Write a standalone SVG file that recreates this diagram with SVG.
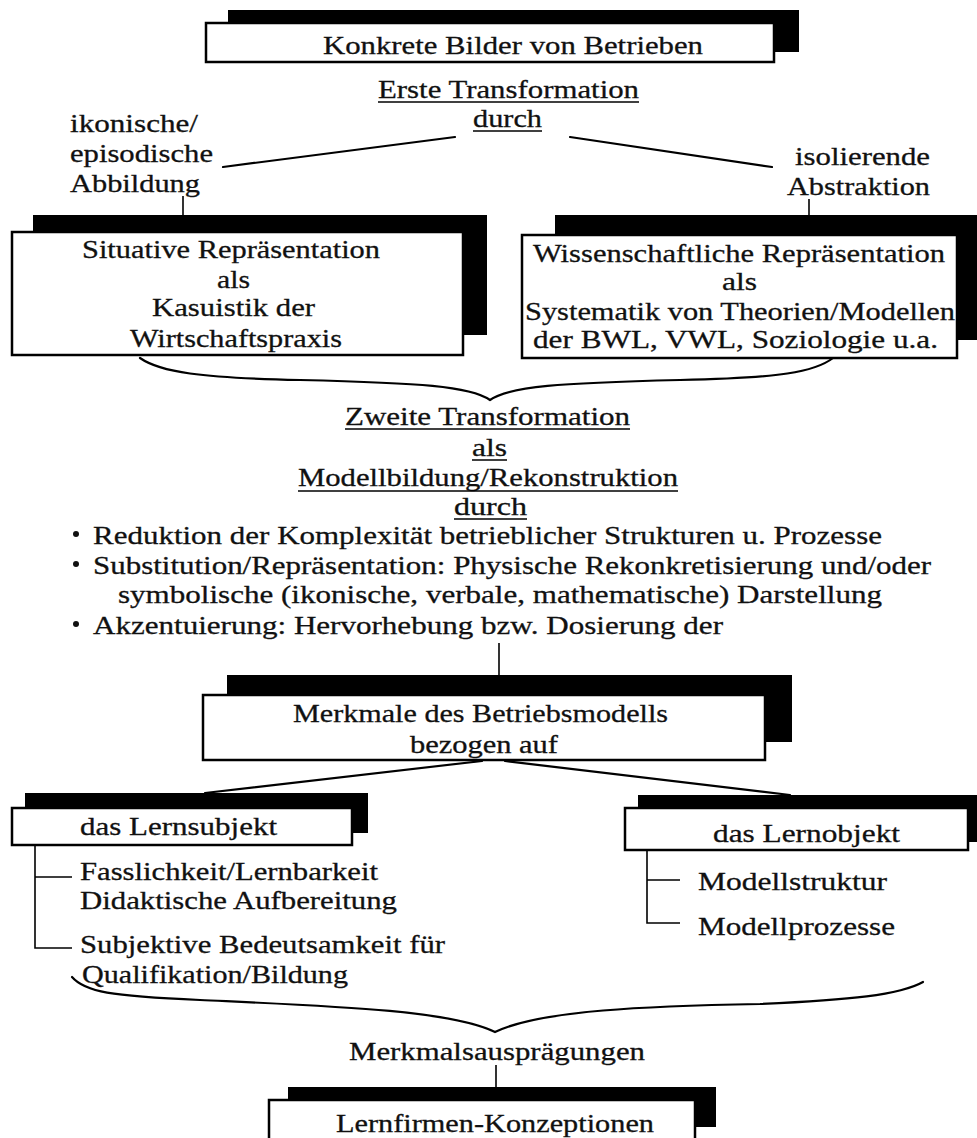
<svg xmlns="http://www.w3.org/2000/svg" width="977" height="1138" viewBox="0 0 977 1138">
  <style>
    text { font-family: "Liberation Serif", "Times New Roman", serif; font-size: 26px; fill: #111; stroke: #111; stroke-width: 0.3; }
    .shadow { fill: #000; }
    .box { fill: #fff; stroke: #000; stroke-width: 2.5; }
    .conn { fill: none; stroke: #000; stroke-width: 2.2; stroke-linecap: round; }
    .thin { fill: none; stroke: #000; stroke-width: 1.6; }
    .ul { stroke: #000; stroke-width: 1.6; }
  </style>
  <rect width="977" height="1138" fill="#fff"/>

  <!-- connectors -->
  <g id="connectors">
    <path class="conn" d="M223,167 L455,137"/>
    <path class="conn" d="M570,137 L772,167"/>
    <path class="thin" d="M183,196 L183,216"/>
    <path class="thin" d="M809,199 L809,216"/>
    <!-- brace joining the two representations -->
    <path class="conn" d="M140,358 C160,372 200,378 300,380 C420,383 470,386 490,400 C510,386 560,383 680,380 C780,378 815,372 833,358"/>
    <path class="thin" d="M499,643 L499,676"/>
    <path class="conn" d="M482,761 L205,793"/>
    <path class="conn" d="M505,761 L790,795"/>
    <!-- tree under the learning subject -->
    <path class="thin" d="M35,846 L35,948 L72,948 M35,877 L72,877"/>
    <!-- tree under the learning object -->
    <path class="thin" d="M647,851 L647,923 L680,923 M647,880 L680,880"/>
    <!-- lower brace -->
    <path class="conn" d="M72,977 C85,992 110,996 200,1000 C330,1006 450,1010 495,1032 C540,1010 650,1006 760,1004 C850,1000 900,995 923,982"/>
    <path class="thin" d="M496,1065 L496,1088"/>
  </g>

  <g id="node-konkrete">
    <rect class="shadow" x="228" y="10" width="571" height="42"/>
    <rect class="box" x="206" y="23" width="568" height="39"/>
    <text x="323" y="54" textLength="380" lengthAdjust="spacingAndGlyphs">Konkrete Bilder von Betrieben</text>
  </g>

  <g id="label-erste">
    <text x="378" y="98" textLength="261" lengthAdjust="spacingAndGlyphs">Erste Transformation</text>
    <line class="ul" x1="378" y1="102" x2="639" y2="102"/>
    <text x="473" y="127" textLength="69" lengthAdjust="spacingAndGlyphs">durch</text>
    <line class="ul" x1="473" y1="131" x2="542" y2="131"/>
  </g>

  <g id="label-ikonisch">
    <text x="70" y="132" textLength="128" lengthAdjust="spacingAndGlyphs">ikonische/</text>
    <text x="70" y="162" textLength="143" lengthAdjust="spacingAndGlyphs">episodische</text>
    <text x="70" y="192" textLength="130" lengthAdjust="spacingAndGlyphs">Abbildung</text>
  </g>

  <g id="label-isolierend">
    <text x="795" y="165" textLength="135" lengthAdjust="spacingAndGlyphs">isolierende</text>
    <text x="787" y="195" textLength="143" lengthAdjust="spacingAndGlyphs">Abstraktion</text>
  </g>

  <g id="node-situativ">
    <rect class="shadow" x="33" y="215" width="454" height="120"/>
    <rect class="box" x="12" y="232" width="451" height="123"/>
    <text x="82" y="258" textLength="298" lengthAdjust="spacingAndGlyphs">Situative Repräsentation</text>
    <text x="217" y="288" textLength="33" lengthAdjust="spacingAndGlyphs">als</text>
    <text x="152" y="316" textLength="163" lengthAdjust="spacingAndGlyphs">Kasuistik der</text>
    <text x="130" y="347" textLength="212" lengthAdjust="spacingAndGlyphs">Wirtschaftspraxis</text>
  </g>

  <g id="node-wissenschaftlich">
    <rect class="shadow" x="555" y="215" width="425" height="125"/>
    <rect class="box" x="522" y="235" width="435" height="123"/>
    <text x="533" y="262" textLength="412" lengthAdjust="spacingAndGlyphs">Wissenschaftliche Repräsentation</text>
    <text x="722" y="290" textLength="35" lengthAdjust="spacingAndGlyphs">als</text>
    <text x="525" y="320" textLength="430" lengthAdjust="spacingAndGlyphs">Systematik von Theorien/Modellen</text>
    <text x="533" y="348" textLength="405" lengthAdjust="spacingAndGlyphs">der BWL, VWL, Soziologie u.a.</text>
  </g>

  <g id="label-zweite">
    <text x="345" y="425" textLength="285" lengthAdjust="spacingAndGlyphs">Zweite Transformation</text>
    <line class="ul" x1="345" y1="429" x2="630" y2="429"/>
    <text x="472" y="456" textLength="35" lengthAdjust="spacingAndGlyphs">als</text>
    <line class="ul" x1="472" y1="460" x2="507" y2="460"/>
    <text x="298" y="486" textLength="380" lengthAdjust="spacingAndGlyphs">Modellbildung/Rekonstruktion</text>
    <line class="ul" x1="298" y1="491" x2="678" y2="491"/>
    <text x="454" y="515" textLength="73" lengthAdjust="spacingAndGlyphs">durch</text>
    <line class="ul" x1="454" y1="519" x2="527" y2="519"/>
  </g>

  <g id="list-verfahren">
    <circle cx="76" cy="534" r="3" fill="#111"/>
    <text x="93" y="544" textLength="789" lengthAdjust="spacingAndGlyphs">Reduktion der Komplexität betrieblicher Strukturen u. Prozesse</text>
    <circle cx="76" cy="564" r="3" fill="#111"/>
    <text x="93" y="574" textLength="838" lengthAdjust="spacingAndGlyphs">Substitution/Repräsentation: Physische Rekonkretisierung und/oder</text>
    <text x="118" y="603" textLength="764" lengthAdjust="spacingAndGlyphs">symbolische (ikonische, verbale, mathematische) Darstellung</text>
    <circle cx="76" cy="624" r="3" fill="#111"/>
    <text x="93" y="634" textLength="630" lengthAdjust="spacingAndGlyphs">Akzentuierung: Hervorhebung bzw. Dosierung der</text>
  </g>

  <g id="node-merkmale">
    <rect class="shadow" x="227" y="675" width="565" height="67"/>
    <rect class="box" x="203" y="695" width="562" height="65"/>
    <text x="293" y="722" textLength="375" lengthAdjust="spacingAndGlyphs">Merkmale des Betriebsmodells</text>
    <text x="410" y="753" textLength="148" lengthAdjust="spacingAndGlyphs">bezogen auf</text>
  </g>

  <g id="node-lernsubjekt">
    <rect class="shadow" x="25" y="793" width="343" height="40"/>
    <rect class="box" x="12" y="808" width="340" height="37"/>
    <text x="80" y="835" textLength="197" lengthAdjust="spacingAndGlyphs">das Lernsubjekt</text>
  </g>

  <g id="list-lernsubjekt">
    <text x="80" y="880" textLength="298" lengthAdjust="spacingAndGlyphs">Fasslichkeit/Lernbarkeit</text>
    <text x="80" y="909" textLength="317" lengthAdjust="spacingAndGlyphs">Didaktische Aufbereitung</text>
    <text x="80" y="953" textLength="365" lengthAdjust="spacingAndGlyphs">Subjektive Bedeutsamkeit für</text>
    <text x="82" y="983" textLength="266" lengthAdjust="spacingAndGlyphs">Qualifikation/Bildung</text>
  </g>

  <g id="node-lernobjekt">
    <rect class="shadow" x="638" y="795" width="342" height="47"/>
    <rect class="box" x="625" y="808" width="343" height="42"/>
    <text x="713" y="842" textLength="187" lengthAdjust="spacingAndGlyphs">das Lernobjekt</text>
  </g>

  <g id="list-lernobjekt">
    <text x="698" y="890" textLength="189" lengthAdjust="spacingAndGlyphs">Modellstruktur</text>
    <text x="698" y="935" textLength="197" lengthAdjust="spacingAndGlyphs">Modellprozesse</text>
  </g>

  <g id="label-auspraegungen">
    <text x="349" y="1060" textLength="296" lengthAdjust="spacingAndGlyphs">Merkmalsausprägungen</text>
  </g>

  <g id="node-lernfirmen">
    <rect class="shadow" x="288" y="1087" width="428" height="40"/>
    <rect class="box" x="269" y="1100" width="426" height="42"/>
    <text x="336" y="1132" textLength="318" lengthAdjust="spacingAndGlyphs">Lernfirmen-Konzeptionen</text>
  </g>
</svg>
